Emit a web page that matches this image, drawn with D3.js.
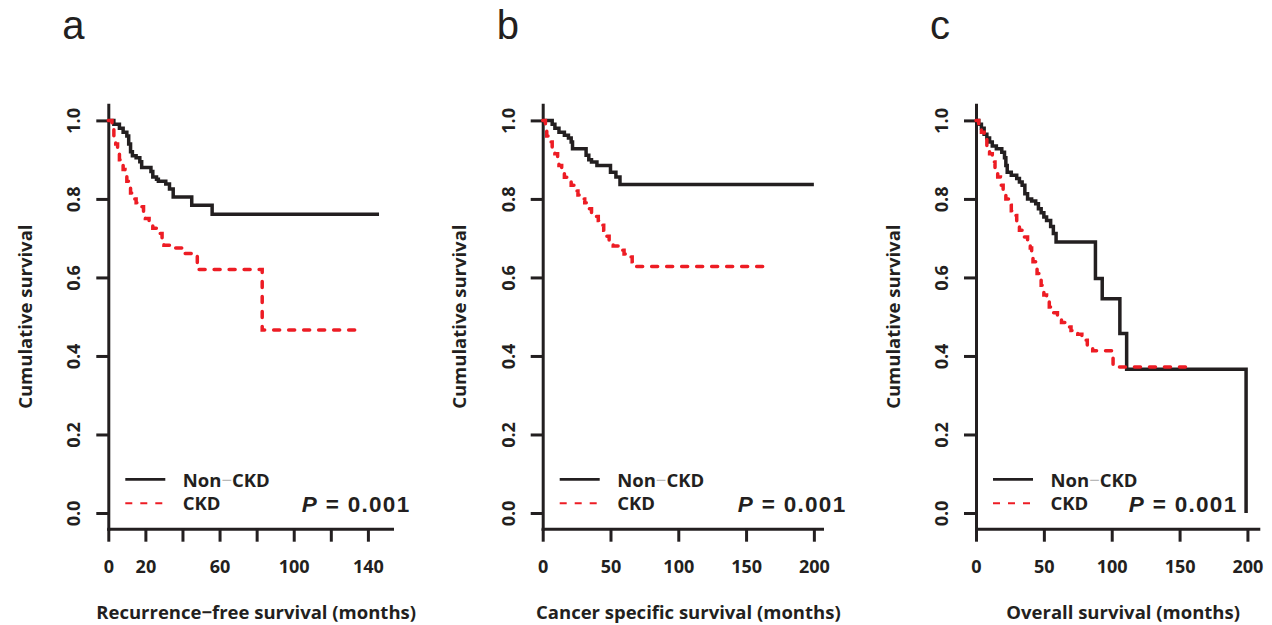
<!DOCTYPE html>
<html>
<head>
<meta charset="utf-8">
<script src="https://cdn.jsdelivr.net/npm/d3@7"></script>
<style>
  html, body { margin: 0; padding: 0; background: #ffffff; }
  svg { display: block; }
</style>
</head>
<body>
<svg id="chart" width="1272" height="625"></svg>
<script>
// ---------- data ----------
const panelLetters = ["a", "b", "c"];
const xTitles = ["Recurrence\u2212free survival (months)", "Cancer specific survival (months)", "Overall survival (months)"];
const yTitle = "Cumulative survival";
const seriesNames = ["Non", "CKD"];
const pText = "= 0.001";

const yTickValues = [0, 0.2, 0.4, 0.6, 0.8, 1.0];
const yTickLabels = ["0.0", "0.2", "0.4", "0.6", "0.8", "1.0"];

const aTickValues = [0, 20, 40, 60, 80, 100, 120, 140];
const aTickLabels = ["0", "20", "", "60", "", "100", "", "140"];
const bTickValues = [0, 50, 100, 150, 200];
const bTickLabels = ["0", "50", "100", "150", "200"];
const cTickValues = [0, 50, 100, 150, 200];
const cTickLabels = ["0", "50", "100", "150", "200"];

// Panel a: recurrence-free survival
const aNonTime = [0, 3, 6, 8, 10, 11, 12, 13, 15, 17, 18, 23, 24, 26, 27, 31, 33, 35, 45, 56, 146];
const aNonSurv = [1.0, 0.99, 0.98, 0.97, 0.96, 0.94, 0.92, 0.91, 0.905, 0.895, 0.88, 0.87, 0.856, 0.85, 0.845, 0.838, 0.825, 0.805, 0.784, 0.761, 0.761];
const aCkdTime = [0, 2, 3, 4, 5, 6, 7, 8, 9, 10, 11, 12, 13, 15, 17, 19, 20, 22, 24, 26, 29, 30, 36, 40, 48, 83, 133];
const aCkdSurv = [1.0, 0.98, 0.96, 0.94, 0.92, 0.90, 0.89, 0.875, 0.86, 0.845, 0.83, 0.815, 0.80, 0.79, 0.78, 0.765, 0.75, 0.735, 0.725, 0.712, 0.695, 0.682, 0.675, 0.661, 0.62, 0.466, 0.466];

// Panel b: cancer specific survival
const bNonTime = [0, 7, 9, 12, 16, 19, 21, 22, 32, 34, 36, 40, 50, 54, 57, 200];
const bNonSurv = [1.0, 0.99, 0.98, 0.97, 0.962, 0.955, 0.945, 0.928, 0.911, 0.90, 0.894, 0.885, 0.868, 0.856, 0.837, 0.837];
const bCkdTime = [0, 2, 3, 5, 7, 9, 11, 12, 14, 16, 19, 21, 24, 26, 29, 31, 33, 36, 39, 41, 43, 45, 47, 49, 52, 56, 60, 62, 66, 67, 163];
const bCkdSurv = [1.0, 0.975, 0.96, 0.945, 0.93, 0.915, 0.90, 0.885, 0.87, 0.855, 0.845, 0.835, 0.82, 0.81, 0.80, 0.79, 0.775, 0.765, 0.755, 0.745, 0.733, 0.72, 0.705, 0.69, 0.68, 0.669, 0.66, 0.652, 0.64, 0.628, 0.628];

// Panel c: overall survival
const cNonTime = [0, 2, 4, 6, 8, 10, 12, 15, 19, 21, 22, 23, 26, 30, 32, 34, 36, 38, 41, 44, 46, 48, 50, 52, 55, 57, 59, 88, 93, 106, 111, 199];
const cNonSurv = [1.0, 0.99, 0.98, 0.965, 0.955, 0.945, 0.935, 0.928, 0.919, 0.905, 0.885, 0.868, 0.86, 0.852, 0.843, 0.835, 0.813, 0.80, 0.795, 0.788, 0.775, 0.765, 0.754, 0.745, 0.73, 0.712, 0.69, 0.597, 0.546, 0.457, 0.366, 0.0];
const cCkdTime = [0, 2, 4, 6, 8, 10, 12, 14, 16, 18, 20, 22, 24, 26, 28, 30, 32, 34, 38, 40, 41, 42, 44, 45, 47, 48, 50, 52, 54, 57, 60, 63, 66, 70, 75, 78, 82, 86, 101, 155];
const cCkdSurv = [1.0, 0.985, 0.97, 0.955, 0.935, 0.915, 0.894, 0.875, 0.856, 0.835, 0.815, 0.80, 0.784, 0.77, 0.758, 0.74, 0.72, 0.703, 0.69, 0.675, 0.656, 0.64, 0.627, 0.61, 0.597, 0.58, 0.555, 0.54, 0.525, 0.51, 0.495, 0.485, 0.474, 0.465, 0.455, 0.44, 0.423, 0.413, 0.372, 0.372];

// ---------- layout ----------
const INK = "#231f20";
const RED = "#ed1c24";
const FONT = "'Open Sans', 'DejaVu Sans', sans-serif";
const ARIAL = "'Liberation Sans', Arial, sans-serif";

const panels = [
  { letter: panelLetters[0], title: xTitles[0], xMax: 153, left: 108.3, right: 392, ticks: aTickValues, labels: aTickLabels,
    non: [aNonTime, aNonSurv], ckd: [aCkdTime, aCkdSurv], pRight: 409 },
  { letter: panelLetters[1], title: xTitles[1], xMax: 206, left: 542.7, right: 822, ticks: bTickValues, labels: bTickLabels,
    non: [bNonTime, bNonSurv], ckd: [bCkdTime, bCkdSurv], pRight: 845 },
  { letter: panelLetters[2], title: xTitles[2], xMax: 208, left: 976, right: 1258.3, ticks: cTickValues, labels: cTickLabels,
    non: [cNonTime, cNonSurv], ckd: [cCkdTime, cCkdSurv], pRight: 1236 }
];

const svg = d3.select("#chart");
const yScale = d3.scaleLinear().domain([-0.04, 1.04]).range([528.7, 104.7]);
const xAxisY = yScale(-0.04);

panels.forEach(p => {
  const g = svg.append("g");
  const x = d3.scaleLinear().domain([0, p.xMax]).range([p.left, p.right]);

  // x axis
  const xa = d3.axisBottom(x).tickValues(p.ticks)
    .tickFormat((d, i) => p.labels[i]).tickSize(13).tickSizeOuter(0);
  const gx = g.append("g").attr("transform", `translate(0,${xAxisY})`).call(xa);
  gx.select(".domain").attr("stroke", INK).attr("stroke-width", 3).attr("stroke-linecap", "square");
  gx.selectAll(".tick line").attr("stroke", INK).attr("stroke-width", 3);
  gx.selectAll(".tick text").attr("y", 44).attr("dy", 0)
    .attr("font-family", FONT).attr("font-size", 18).attr("font-weight", 700).attr("fill", INK);

  // y axis
  const ya = d3.axisLeft(yScale).tickValues(yTickValues)
    .tickFormat((d, i) => yTickLabels[i]).tickSize(12).tickSizeOuter(0);
  const gy = g.append("g").attr("transform", `translate(${p.left},0)`).call(ya);
  gy.select(".domain").attr("stroke", INK).attr("stroke-width", 3).attr("stroke-linecap", "square");
  gy.selectAll(".tick line").attr("stroke", INK).attr("stroke-width", 3);
  gy.selectAll(".tick text").attr("transform", "rotate(-90)").attr("x", 0).attr("y", -28).attr("dy", 0)
    .attr("text-anchor", "middle")
    .attr("font-family", FONT).attr("font-size", 18).attr("font-weight", 700).attr("fill", INK);
  svg.selectAll(".domain").attr("fill", "none");

  // titles
  g.append("text").attr("x", (p.left + p.right) / 2 + 6).attr("y", 619)
    .attr("text-anchor", "middle").attr("font-family", FONT).attr("font-size", 18.5).attr("font-weight", 700)
    .attr("fill", INK).text(p.title);
  g.append("text").attr("transform", `translate(${p.left - 76.5},${(yScale(0) + yScale(1)) / 2}) rotate(-90)`)
    .attr("text-anchor", "middle").attr("font-family", FONT).attr("font-size", 18.5).attr("font-weight", 700)
    .attr("fill", INK).text(yTitle);
  g.append("text").attr("x", p.left - 46).attr("y", 39)
    .attr("font-family", ARIAL).attr("font-size", 40).attr("fill", INK).text(p.letter);

  // curves
  const line = d3.line().x(d => x(d[0])).y(d => yScale(d[1])).curve(d3.curveStepAfter);
  const nonData = d3.zip(p.non[0], p.non[1]);
  const ckdData = d3.zip(p.ckd[0], p.ckd[1]);
  g.append("path").datum(nonData).attr("d", line).attr("fill", "none")
    .attr("stroke", INK).attr("stroke-width", 3.5).attr("stroke-linejoin", "miter");
  g.append("path").datum(ckdData).attr("d", line).attr("fill", "none")
    .attr("stroke", RED).attr("stroke-width", 3.5).attr("stroke-dasharray", "6,9").attr("stroke-linecap", "round");

  // legend
  const lx = p.left;
  g.append("line").attr("x1", lx + 17).attr("x2", lx + 57).attr("y1", 479.3).attr("y2", 479.3)
    .attr("stroke", INK).attr("stroke-width", 2.8);
  g.append("line").attr("x1", lx + 17).attr("x2", lx + 57).attr("y1", 503.3).attr("y2", 503.3)
    .attr("stroke", RED).attr("stroke-width", 2).attr("stroke-dasharray", "7,8");
  const t1 = g.append("text").attr("x", lx + 74.5).attr("y", 486.5)
    .attr("font-family", FONT).attr("font-size", 18.5).attr("font-weight", 700).attr("fill", INK);
  t1.append("tspan").text(seriesNames[0]);
  t1.append("tspan").attr("fill", "#b8b8b8").attr("font-weight", 400).text("\u2212");
  t1.append("tspan").text(seriesNames[1]);
  g.append("text").attr("x", lx + 74.5).attr("y", 509.5)
    .attr("font-family", FONT).attr("font-size", 18.5).attr("font-weight", 700).attr("fill", INK).text(seriesNames[1]);

  // P value
  const pt = g.append("text").attr("x", p.pRight + 1.5).attr("y", 511.7).attr("text-anchor", "end")
    .attr("font-family", ARIAL).attr("font-size", 22.5).attr("font-weight", 700).attr("fill", INK)
    .attr("letter-spacing", 1.3);
  pt.append("tspan").attr("font-style", "italic").text("P");
  pt.append("tspan").text(" " + pText);
});
</script>
</body>
</html>
